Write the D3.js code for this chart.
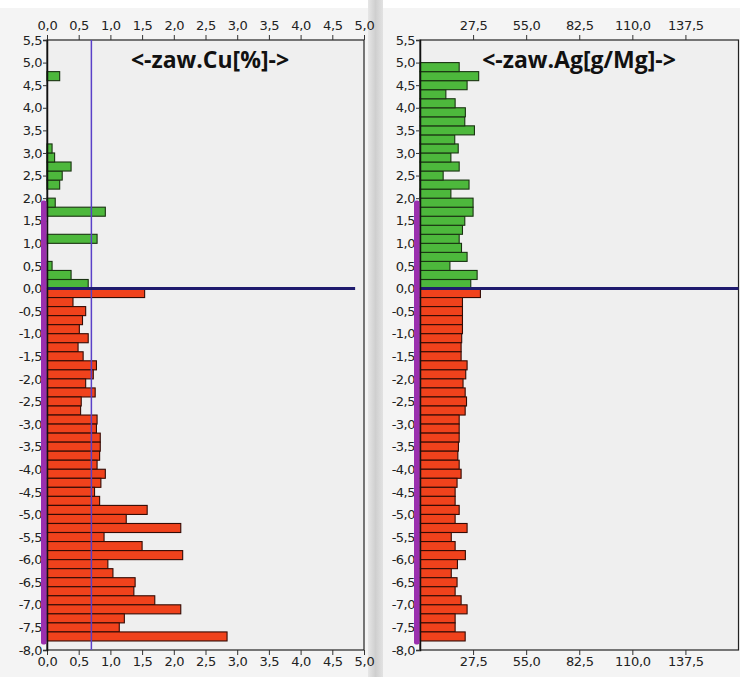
<!DOCTYPE html>
<html>
<head>
<meta charset="utf-8">
<script src="https://cdn.jsdelivr.net/npm/d3@7"></script>
<style>
  html, body { margin: 0; padding: 0; background: #f4f4f4; }
  svg { display: block; }
  .tick text { font-family: "DejaVu Sans", Verdana, sans-serif; font-size: 13px; fill: #222; }
  .tick line { stroke: #333; }
  .title { font-family: "Open Sans", sans-serif; font-weight: 700; font-size: 23px; fill: #111; }
</style>
</head>
<body>
<svg id="chart" width="740" height="677"></svg>
<script>
// ---------------- data ----------------
// depth intervals (top of each 0.2 interval)
const greenTops = [0.2,0.4,0.6,0.8,1.0,1.2,1.4,1.6,1.8,2.0,2.2,2.4,2.6,2.8,3.0,3.2,3.4,3.6,3.8,4.0,4.2,4.4,4.6,4.8,5.0];
const redTops = [0.0,-0.2,-0.4,-0.6,-0.8,-1.0,-1.2,-1.4,-1.6,-1.8,-2.0,-2.2,-2.4,-2.6,-2.8,-3.0,-3.2,-3.4,-3.6,-3.8,
                 -4.0,-4.2,-4.4,-4.6,-4.8,-5.0,-5.2,-5.4,-5.6,-5.8,-6.0,-6.2,-6.4,-6.6,-6.8,-7.0,-7.2,-7.4,-7.6];
const intervalStep = 0.2;

// Cu [%]
const cuGreen = [0.65,0.38,0.08,0,0,0.79,0,0,0.92,0.13,0,0.20,0.24,0.38,0.12,0.08,0,0,0,0,0,0,0,0.20,0];
const cuRed = [1.54,0.41,0.61,0.56,0.51,0.65,0.49,0.57,0.78,0.73,0.61,0.76,0.54,0.53,0.79,0.78,0.84,0.84,0.83,0.79,
               0.92,0.85,0.75,0.83,1.58,1.25,2.11,0.90,1.50,2.14,0.96,1.04,1.39,1.37,1.70,2.11,1.22,1.14,2.84];

// Ag [g/Mg]
const agGreen = [26.3,29.6,15.5,24.4,21.5,20.3,22.0,23.2,27.5,27.5,16.0,25.4,12.0,20.3,16.0,19.8,18.0,28.2,23.2,23.5,18.2,13.4,24.4,30.4,20.3];
const agRed = [31.3,22.0,22.0,22.0,22.0,21.6,21.3,21.3,24.4,23.7,22.3,23.4,24.1,23.4,20.3,20.3,20.3,19.9,19.6,20.3,
               21.3,19.2,18.2,18.2,20.3,18.2,24.4,16.2,18.2,23.5,19.4,16.2,19.2,18.2,21.3,24.4,18.2,18.2,23.4];

// axes
const depthTicks = [5.5,5.0,4.5,4.0,3.5,3.0,2.5,2.0,1.5,1.0,0.5,0.0,-0.5,-1.0,-1.5,-2.0,-2.5,-3.0,-3.5,-4.0,-4.5,-5.0,-5.5,-6.0,-6.5,-7.0,-7.5,-8.0];
const cuTicks = [0.0,0.5,1.0,1.5,2.0,2.5,3.0,3.5,4.0,4.5,5.0];
const agTicks = [27.5,55.0,82.5,110.0,137.5];
const cuDomain = [0, 5];
const agDomain = [0, 165];
const depthDomain = [5.5, -8.0];

// reference markers
const cuThreshold = 0.7;          // vertical line in Cu panel
const cuZeroLineMax = 4.86;       // extent of the zero line in Cu panel
const agZeroLineMax = 165;
const sampledInterval = [1.95, -7.88]; // magenta band along the depth axis

const titles = ["<-zaw.Cu[%]->", "<-zaw.Ag[g/Mg]->"];

// ---------------- drawing ----------------
const svg = d3.select("#chart");
const fmt = d => d.toFixed(1).replace(".", ",");

// white top strip & separator
svg.append("rect").attr("x", 0).attr("y", 0).attr("width", 740).attr("height", 8).attr("fill", "#ffffff");
const sepGrad = svg.append("defs").append("linearGradient").attr("id", "sep").attr("x1", "0").attr("x2", "1");
sepGrad.append("stop").attr("offset", "0").attr("stop-color", "#e6e6e6");
sepGrad.append("stop").attr("offset", "0.5").attr("stop-color", "#cfcfcf");
sepGrad.append("stop").attr("offset", "1").attr("stop-color", "#e2e2e2");
svg.append("rect").attr("x", 368).attr("y", 0).attr("width", 15).attr("height", 677).attr("fill", "url(#sep)");

const y = d3.scaleLinear().domain(depthDomain).range([40, 650]);

function panel(cfg) {
  const x = d3.scaleLinear().domain(cfg.domain).range(cfg.range);
  const g = svg.append("g");
  const [x0, x1] = x.range();
  const [y0, y1] = y.range();

  // plot background
  g.append("rect").attr("x", x0).attr("y", y0).attr("width", x1 - x0).attr("height", y1 - y0)
    .attr("fill", "#efefef").attr("stroke", "#222").attr("stroke-width", 1.2);

  // bars
  const greenData = cfg.green.map((v, i) => ({ v, top: greenTops[i] })).filter(d => d.v > 0);
  const redData = cfg.red.map((v, i) => ({ v, top: redTops[i] })).filter(d => d.v > 0);

  g.selectAll(".gbar").data(greenData).join("rect")
    .attr("x", x(0)).attr("y", d => y(d.top))
    .attr("width", d => x(d.v) - x(0))
    .attr("height", d => y(d.top - intervalStep) - y(d.top))
    .attr("fill", "#4db83c").attr("stroke", "#1a3312").attr("stroke-width", 1.1);

  g.selectAll(".rbar").data(redData).join("rect")
    .attr("x", x(0)).attr("y", d => y(d.top))
    .attr("width", d => x(d.v) - x(0))
    .attr("height", d => y(d.top - intervalStep) - y(d.top))
    .attr("fill", "#f0421c").attr("stroke", "#330b05").attr("stroke-width", 1.1);

  // threshold line
  if (cfg.threshold != null) {
    g.append("line").attr("x1", x(cfg.threshold)).attr("x2", x(cfg.threshold))
      .attr("y1", y0).attr("y2", y1).attr("stroke", "#5a40c8").attr("stroke-width", 1.5);
  }

  // zero line
  g.append("line").attr("x1", x(0)).attr("x2", x(cfg.zeroMax))
    .attr("y1", y(0)).attr("y2", y(0)).attr("stroke", "#1f1b6e").attr("stroke-width", 3.2);

  // axes
  const axTop = d3.axisTop(x).tickValues(cfg.ticks).tickFormat(fmt).tickSize(5).tickPadding(5);
  const axBot = d3.axisBottom(x).tickValues(cfg.ticks).tickFormat(fmt).tickSize(5).tickPadding(2);
  const axLeft = d3.axisLeft(y).tickValues(depthTicks).tickFormat(fmt).tickSize(4).tickPadding(1);
  [ [axTop, y0], [axBot, y1] ].forEach(([ax, yy]) => {
    const a = g.append("g").attr("transform", `translate(0,${yy})`).call(ax);
    a.select(".domain").remove();
    a.selectAll(".tick text").attr("letter-spacing", "-0.3");
  });
  const al = g.append("g").attr("transform", `translate(${x0},0)`).call(axLeft);
  al.select(".domain").attr("stroke", "#111").attr("stroke-width", 1.5);
  al.selectAll(".tick text").attr("letter-spacing", "-0.5");

  // magenta sampled band
  g.append("rect").attr("x", x0 - 6).attr("y", y(sampledInterval[0]))
    .attr("width", 5.5).attr("height", y(sampledInterval[1]) - y(sampledInterval[0]))
    .attr("rx", 2).attr("fill", "#9a2fae");

  // title
  g.append("text").attr("class", "title").attr("x", cfg.titleX).attr("y", 68)
    .attr("text-anchor", "middle").text(cfg.title);
}

panel({ domain: cuDomain, range: [47, 364], green: cuGreen, red: cuRed, ticks: cuTicks,
        threshold: cuThreshold, zeroMax: cuZeroLineMax, title: titles[0], titleX: 210 });
panel({ domain: agDomain, range: [420, 738.5], green: agGreen, red: agRed, ticks: agTicks,
        threshold: null, zeroMax: agZeroLineMax, title: titles[1], titleX: 579 });
</script>
</body>
</html>
